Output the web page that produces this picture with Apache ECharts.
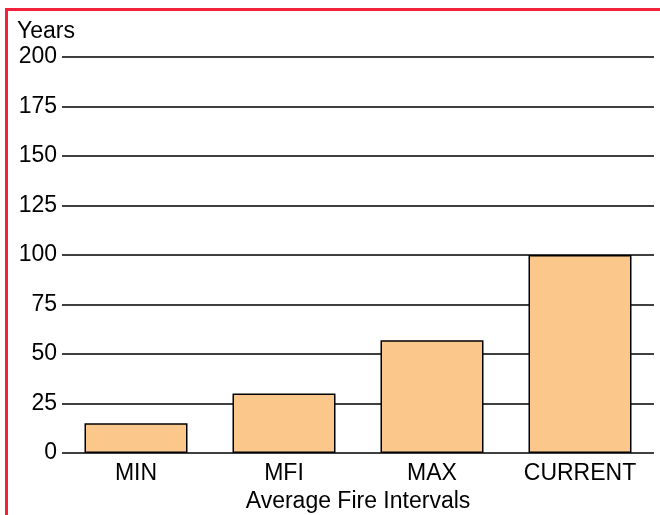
<!DOCTYPE html>
<html>
<head>
<meta charset="utf-8">
<script src="https://cdn.jsdelivr.net/npm/echarts@6/dist/echarts.min.js"></script>
<style>
  html, body { margin: 0; padding: 0; background: #fff; }
  #wrap { position: relative; width: 660px; height: 515px; overflow: hidden; }
  #chart { position: absolute; left: 0; top: 0; width: 660px; height: 515px; }
  #bt { position: absolute; left: 5px; top: 8px; width: 655px; height: 3px; background: #f4213c; }
  #bl { position: absolute; left: 5px; top: 8px; width: 3px; height: 507px; background: #f4213c; }
</style>
</head>
<body>
<div id="wrap">
  <div id="chart"></div>
  <div id="bt"></div>
  <div id="bl"></div>
</div>
<script>
const categories = ['MIN', 'MFI', 'MAX', 'CURRENT'];
const values = [15, 30, 57, 100];
const yTicks = { min: 0, max: 200, interval: 25 };
const yName = 'Years';
const xName = 'Average Fire Intervals';

const FONT = '"Liberation Sans", Arial, Helvetica, sans-serif';
const chart = echarts.init(document.getElementById('chart'), null, { renderer: 'canvas' });
chart.setOption({
  animation: false,
  grid: { left: 62, right: 6, top: 57, bottom: 62, containLabel: false, outerBoundsMode: 'none' },
  xAxis: {
    type: 'category',
    data: categories,
    name: xName,
    nameLocation: 'middle',
    nameGap: 33,
    nameTextStyle: { fontFamily: FONT, fontSize: 23, color: '#000' },
    axisLine: { show: false },
    axisTick: { show: false },
    axisLabel: { fontFamily: FONT, fontSize: 23, color: '#000', margin: 9, interval: 0, hideOverlap: false }
  },
  yAxis: {
    type: 'value',
    min: yTicks.min,
    max: yTicks.max,
    interval: yTicks.interval,
    name: yName,
    nameLocation: 'end',
    nameGap: 14,
    nameTextStyle: { fontFamily: FONT, fontSize: 23, color: '#000', align: 'left', padding: [0, 0, 0, -45] },
    axisLine: { show: false },
    axisTick: { show: false },
    axisLabel: { fontFamily: FONT, fontSize: 23, color: '#000', margin: 5 },
    splitLine: { show: true, lineStyle: { color: '#000', width: 1.5 } }
  },
  series: [{
    type: 'bar',
    data: values,
    barWidth: 103,
    itemStyle: { color: '#FBC78A', borderColor: '#000', borderWidth: 1.5 }
  }]
});
</script>
</body>
</html>
